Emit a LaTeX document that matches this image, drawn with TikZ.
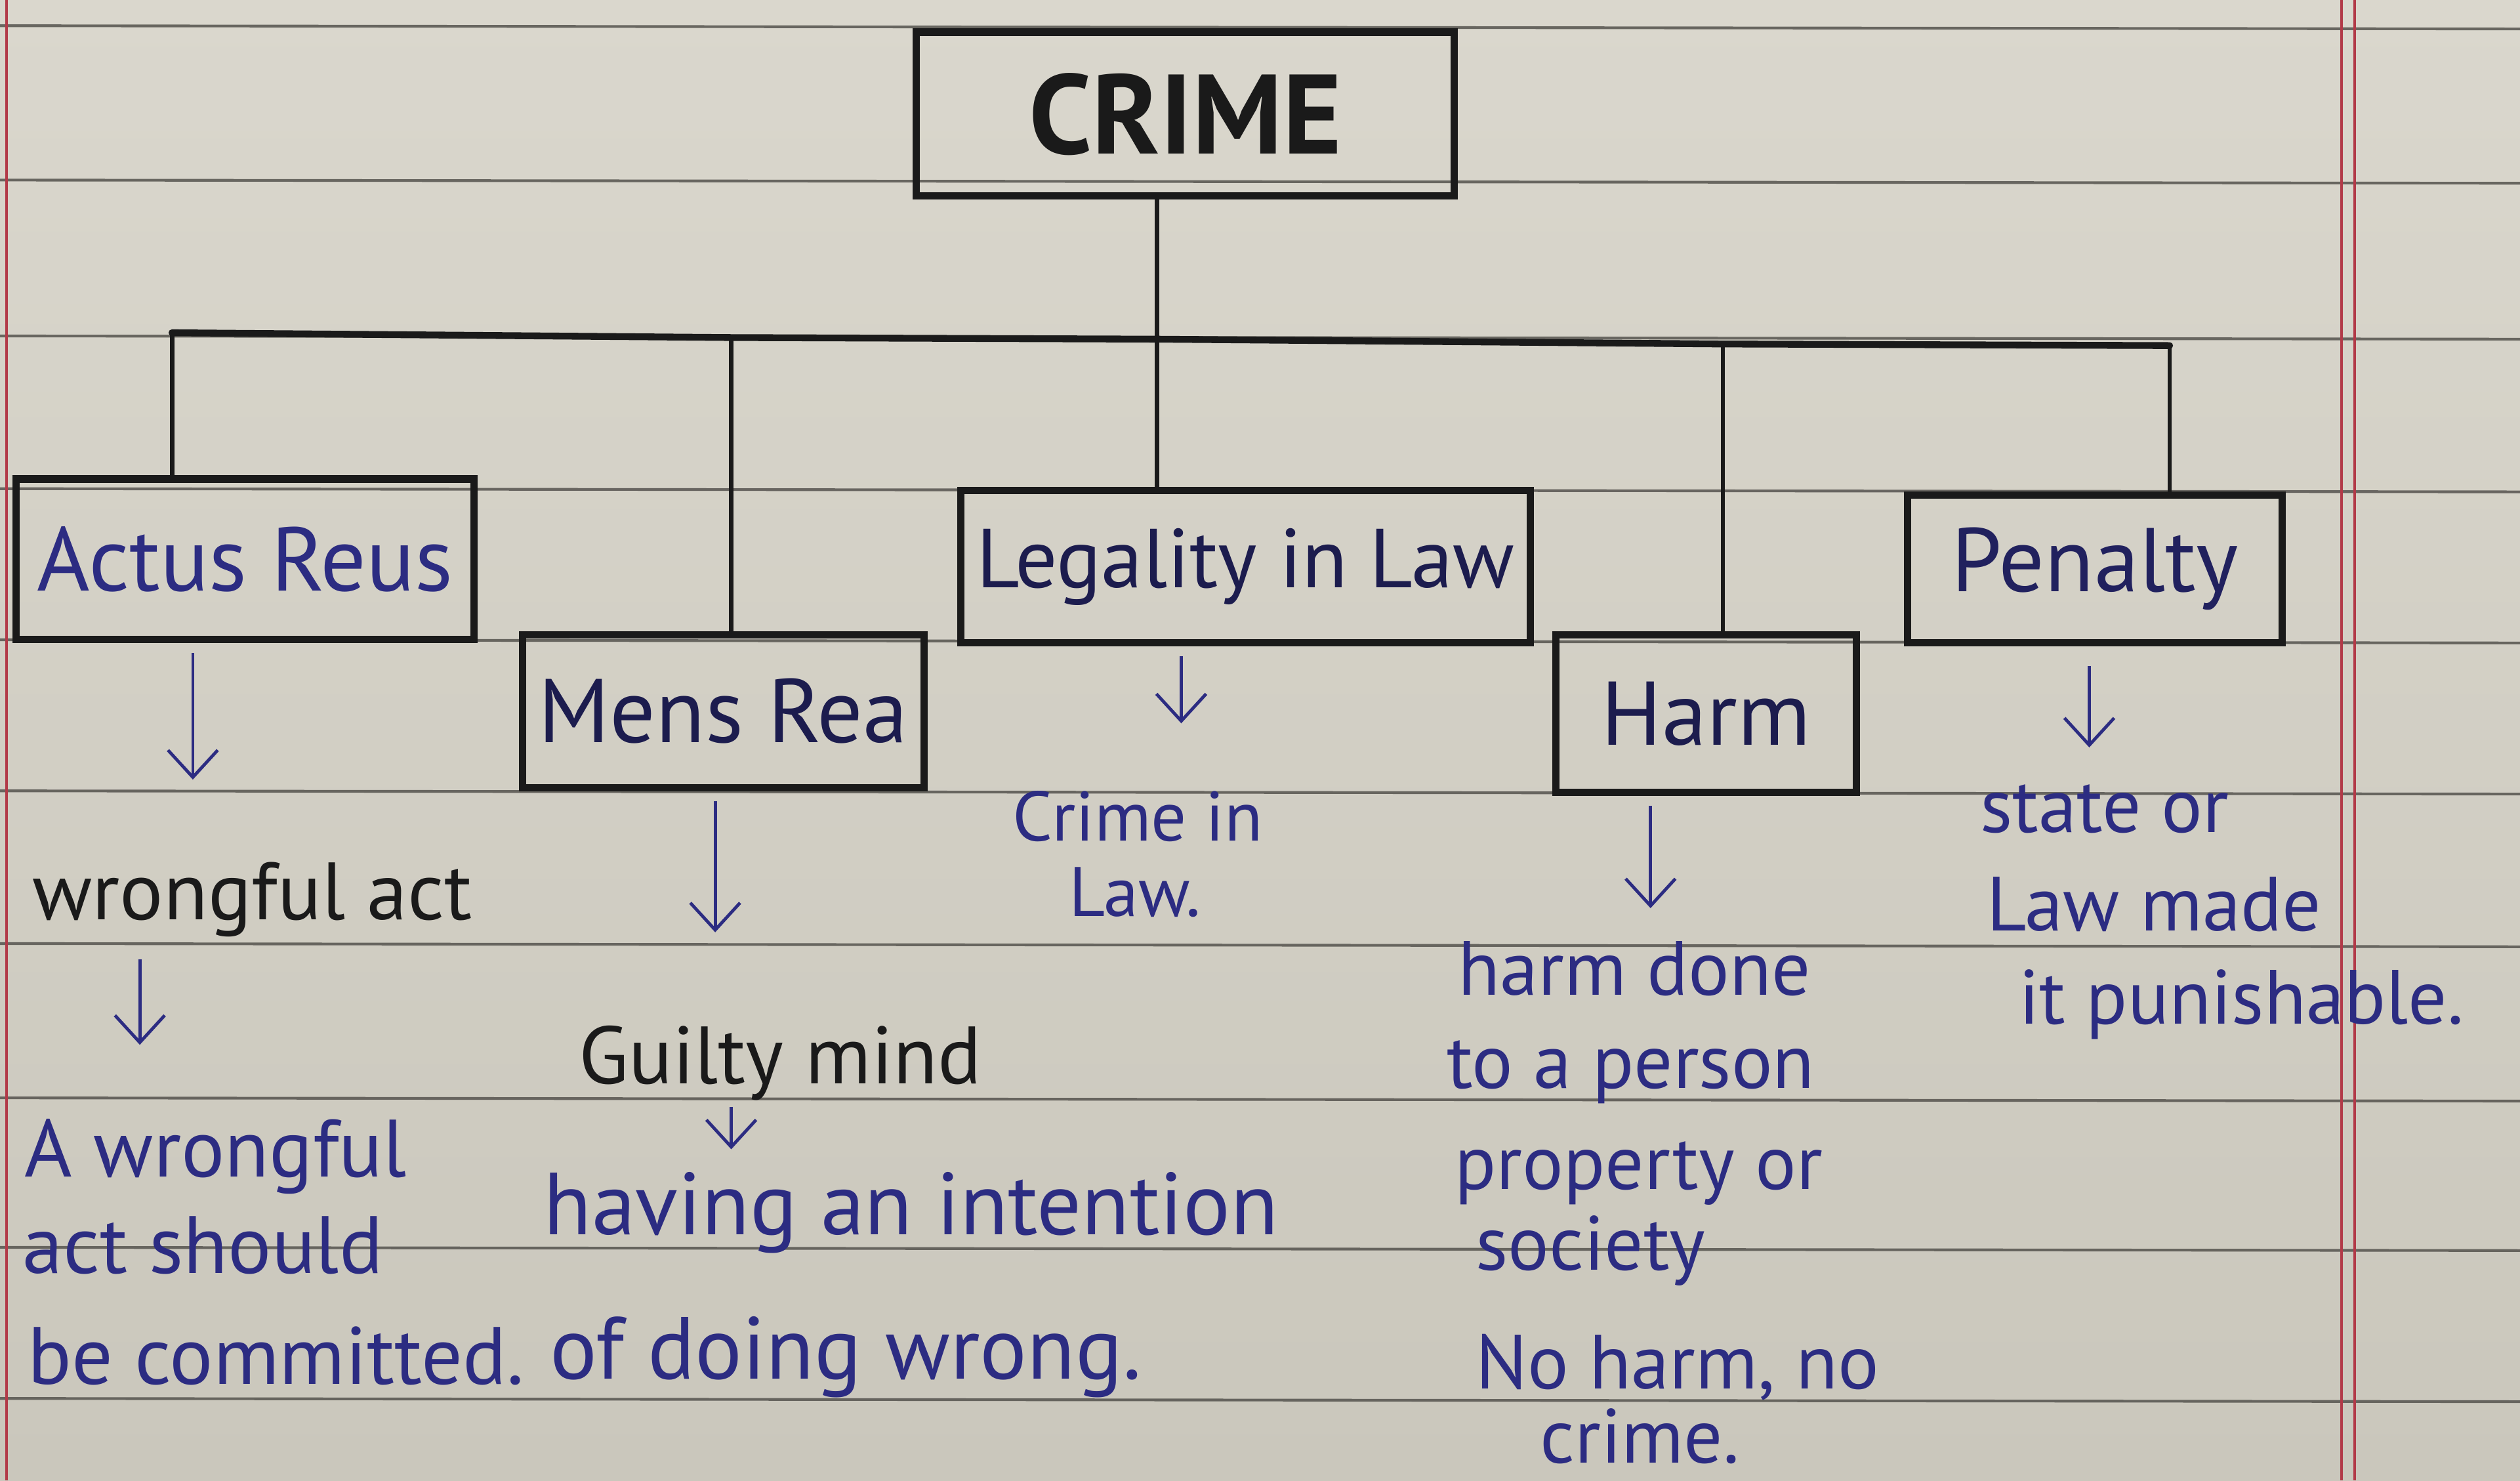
\documentclass[tikz,border=0pt]{standalone}
\usepackage{fontspec}
\setmainfont{PT Sans}
\usetikzlibrary{arrows.meta,fit,calc}
\definecolor{paperA}{HTML}{DAD7CD}
\definecolor{paperB}{HTML}{CAC7BC}
\definecolor{rulec}{HTML}{55534E}
\definecolor{marginc}{HTML}{B23A48}
\definecolor{ink}{HTML}{1A1A1A}
\definecolor{pen}{HTML}{2C2C82}
\definecolor{darkpen}{HTML}{1C1C4E}
\newcommand{\fsz}[2]{\fontsize{#1}{#2}\selectfont}
\tikzset{
  box/.style={draw=ink, line width=3.2pt, inner sep=0pt},
  boxtext/.style={font=\fsz{40pt}{46pt}, text=#1, inner sep=0pt},
  note/.style={anchor=base west, inner sep=0pt, text=pen, font=\fsz{36pt}{40pt}},
  arr/.style={draw=pen, line width=1.4pt, -{Straight Barb[length=12pt,width=22pt]}},
  con/.style={draw=ink, line width=2pt},
  barline/.style={draw=ink, line width=3pt, line cap=round},
  rule/.style={draw=rulec, line width=1.2pt, opacity=0.85},
  marginline/.style={draw=marginc, line width=1.1pt}
}
\begin{document}
\begin{tikzpicture}[x=0.025cm,y=-0.025cm]
\shade[top color=paperA, bottom color=paperB] (0,0) rectangle (1568,921);
\useasboundingbox (0,0) rectangle (1568,921);
% ruled lines
\foreach \yy in {16,112,209,304,398,492,587,683,776,870}
  \draw[rule] (0,\yy) -- (1568,\yy+2);
% margins
\draw[marginline] (4,0) -- (4,921);
\draw[marginline] (1457,0) -- (1457,921);
\draw[marginline] (1465,0) -- (1465,921);

% boxes
\node[box, fit={(570,20) (905,122)}, label={[boxtext=ink, font=\fsz{50pt}{56pt}\bfseries]center:CRIME}] (crime) {};
\node[box, fit={(10,298) (295,398)}, label={[boxtext=pen]center:Actus Reus}] (actus) {};
\node[box, fit={(325,395) (575,490)}, label={[boxtext=darkpen]center:Mens Rea}] (mens) {};
\node[box, fit={(598,305) (952,400)}, label={[boxtext=darkpen, font=\fsz{37pt}{42pt}]center:Legality in Law}] (legal) {};
\node[box, fit={(968,395) (1155,493)}, label={[boxtext=darkpen]center:Harm}] (harm) {};
\node[box, fit={(1187,308) (1420,400)}, label={[boxtext=darkpen!70!pen]center:Penalty}] (penalty) {};

% tree connectors
\coordinate (bA) at (107,207);
\coordinate (bM) at (455,210);
\coordinate (bC) at (720,211);
\coordinate (bH) at (1072,214);
\coordinate (bP) at (1350,215);
\draw[barline] (bA) -- (bM) -- (bC) -- (bH) -- (bP);
\draw[con] (crime.south -| bC) -- (bC) -- (bC |- legal.north);
\draw[con] (bA) -- (bA |- actus.north);
\draw[con] (bM) -- (bM |- mens.north);
\draw[con] (bH) -- (bH |- harm.north);
\draw[con] (bP) -- (bP |- penalty.north);

% notes
\node[note, text=ink] (wact) at (20,572) {wrongful act};
\node[note] (aw1) at (15,732) {A wrongful};
\node[note] (aw2) at (14,792) {act should};
\node[note] (aw3) at (17,861) {be committed.};

\node[note, text=ink] (guilty) at (360,674) {Guilty mind};
\node[note, font=\fsz{39pt}{44pt}] (hav1) at (338,768) {having an intention};
\node[note, font=\fsz{39pt}{44pt}] (hav2) at (342,858) {of doing wrong.};

\node[note, font=\fsz{31pt}{34pt}] (cl1) at (630,523) {Crime in};
\node[note, font=\fsz{31pt}{34pt}] (cl2) at (665,570) {Law.};

\node[note, font=\fsz{34pt}{38pt}] (h1) at (907,619) {harm done};
\node[note, font=\fsz{34pt}{38pt}] (h2) at (900,677) {to a person};
\node[note, font=\fsz{34pt}{38pt}] (h3) at (905,740) {property or};
\node[note, font=\fsz{34pt}{38pt}] (h4) at (918,790) {society};
\node[note, font=\fsz{34pt}{38pt}] (h5) at (918,864) {No harm, no};
\node[note, font=\fsz{34pt}{38pt}] (h6) at (958,910) {crime.};

\node[note, font=\fsz{34pt}{38pt}] (p1) at (1232,518) {state or};
\node[note, font=\fsz{34pt}{38pt}] (p2) at (1236,579) {Law made};
\node[note, font=\fsz{34pt}{38pt}] (p3) at (1256,637) {it punishable.};

% arrows
\coordinate (t1) at (120,485);
\draw[arr] ($(actus.south -| t1)+(0,6)$) -- (t1);
\coordinate (t2) at (87,650);
\draw[arr] ($(wact.south -| t2)+(0,14)$) -- (t2);
\coordinate (t3) at (445,580);
\draw[arr] ($(mens.south -| t3)+(0,6)$) -- (t3);
\coordinate (t4) at (455,715);
\draw[arr] ($(guilty.south -| t4)+(0,4)$) -- (t4);
\coordinate (t5) at (735,450);
\draw[arr] ($(legal.south -| t5)+(0,6)$) -- (t5);
\coordinate (t6) at (1027,565);
\draw[arr] ($(harm.south -| t6)+(0,6)$) -- (t6);
\coordinate (t7) at (1300,465);
\draw[arr] ($(penalty.south -| t7)+(0,12)$) -- (t7);
\end{tikzpicture}
\end{document}
